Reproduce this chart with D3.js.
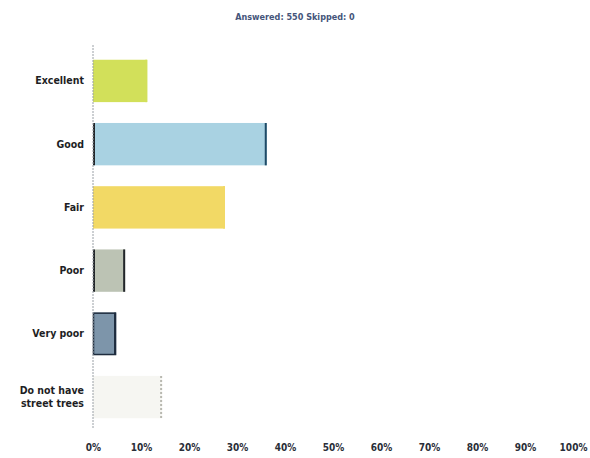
<!DOCTYPE html>
<html>
<head>
<meta charset="utf-8">
<script src="https://cdn.jsdelivr.net/npm/d3@7"></script>
<style>
  body { margin: 0; background: #fff; }
  text { font-family: "DejaVu Sans Condensed", "DejaVu Sans", sans-serif; }
</style>
</head>
<body>
<div id="chart"></div>
<script>
const CATEGORIES = ["Excellent", "Good", "Fair", "Poor", "Very poor", "Do not have street trees"]
const VALUES = [11.3, 36.2, 27.5, 6.7, 4.8, 14.4]
const TICKS = [0, 10, 20, 30, 40, 50, 60, 70, 80, 90, 100]
const TITLE = "Answered: 550    Skipped: 0"

const COLORS = ["#d2e05a", "#a9d2e2", "#f2d965", "#bcc3b4", "#7d95aa", "#f6f6f2"]
const EDGES = ["#d2e05a", "#1f4a66", "#f2d965", "#22262a", "#1e2c3e", "#b8b8b0"]

const WIDTH = 590
const HEIGHT = 458
const LEFT = 93
const RIGHT = 573
const TOP = 49
const BOTTOM = 429

const svg = d3.select("#chart")
  .append("svg")
  .attr("width", WIDTH)
  .attr("height", HEIGHT)

const x = d3.scaleLinear()
  .domain([0, 100])
  .range([LEFT, RIGHT])

const y = d3.scaleBand()
  .domain(CATEGORIES)
  .range([TOP, BOTTOM])
  .paddingInner(0.33)
  .paddingOuter(0.17)

svg.append("text")
  .attr("x", WIDTH / 2)
  .attr("y", 20)
  .attr("text-anchor", "middle")
  .attr("font-size", 9)
  .attr("font-weight", "bold")
  .attr("fill", "#45557a")
  .text(TITLE)

// bars
svg.selectAll("rect.bar")
  .data(CATEGORIES)
  .enter()
  .append("rect")
  .attr("class", "bar")
  .attr("x", x(0))
  .attr("y", d => y(d))
  .attr("width", (d, i) => x(VALUES[i]) - x(0))
  .attr("height", y.bandwidth())
  .attr("fill", (d, i) => COLORS[i])

// dark side edges like the original
svg.selectAll("line.edge")
  .data(CATEGORIES)
  .enter()
  .append("line")
  .attr("class", "edge")
  .attr("x1", (d, i) => x(VALUES[i]) - 1)
  .attr("x2", (d, i) => x(VALUES[i]) - 1)
  .attr("y1", d => y(d))
  .attr("y2", d => y(d) + y.bandwidth())
  .attr("stroke", (d, i) => EDGES[i])
  .attr("stroke-width", 2)
  .attr("stroke-dasharray", (d, i) => i === 5 ? "2,2" : null)

svg.selectAll("line.left")
  .data(CATEGORIES.filter((d, i) => i === 1 || i === 3))
  .enter()
  .append("line")
  .attr("class", "left")
  .attr("x1", x(0) + 1)
  .attr("x2", x(0) + 1)
  .attr("y1", d => y(d))
  .attr("y2", d => y(d) + y.bandwidth())
  .attr("stroke", "#22262a")
  .attr("stroke-width", 2)

svg.selectAll("rect.frame")
  .data(CATEGORIES.filter((d, i) => i === 4))
  .enter()
  .append("rect")
  .attr("class", "frame")
  .attr("x", x(0) + 0.5)
  .attr("y", d => y(d) + 0.5)
  .attr("width", x(VALUES[4]) - x(0) - 1)
  .attr("height", y.bandwidth() - 1)
  .attr("fill", "none")
  .attr("stroke", "#1e2c3e")
  .attr("stroke-width", 1.5)

// axis line (dotted like the scan)
svg.append("line")
  .attr("x1", x(0))
  .attr("x2", x(0))
  .attr("y1", TOP - 4)
  .attr("y2", BOTTOM)
  .attr("stroke", "#9aa0a6")
  .attr("stroke-dasharray", "2,1")

const xAxis = d3.axisBottom(x)
  .tickValues(TICKS)
  .tickFormat(d => d + "%")
  .tickSize(0)
  .tickPadding(0)

svg.append("g")
  .attr("transform", `translate(0,${BOTTOM + 15})`)
  .call(xAxis)
  .call(g => g.select(".domain").remove())
  .selectAll("text")
  .attr("font-size", 10)
  .attr("font-weight", "bold")
  .attr("fill", "#2a2e38")
  .attr("font-family", "'DejaVu Sans Condensed', sans-serif")

const yAxis = d3.axisLeft(y).tickSize(0).tickPadding(9)

svg.append("g")
  .attr("transform", `translate(${x(0)},0)`)
  .call(yAxis)
  .call(g => g.select(".domain").remove())
  .selectAll(".tick text")
  .attr("font-size", 10.5)
  .attr("font-weight", "bold")
  .attr("fill", "#1e1e24")
  .attr("font-family", "'DejaVu Sans Condensed', sans-serif")
  .each(function (d) {
    if (d === "Do not have street trees") {
      const t = d3.select(this).text(null)
      t.append("tspan").attr("x", -9).attr("dy", "-0.25em").text("Do not have")
      t.append("tspan").attr("x", -9).attr("dy", "1.15em").text("street trees")
    }
  })
</script>
</body>
</html>
